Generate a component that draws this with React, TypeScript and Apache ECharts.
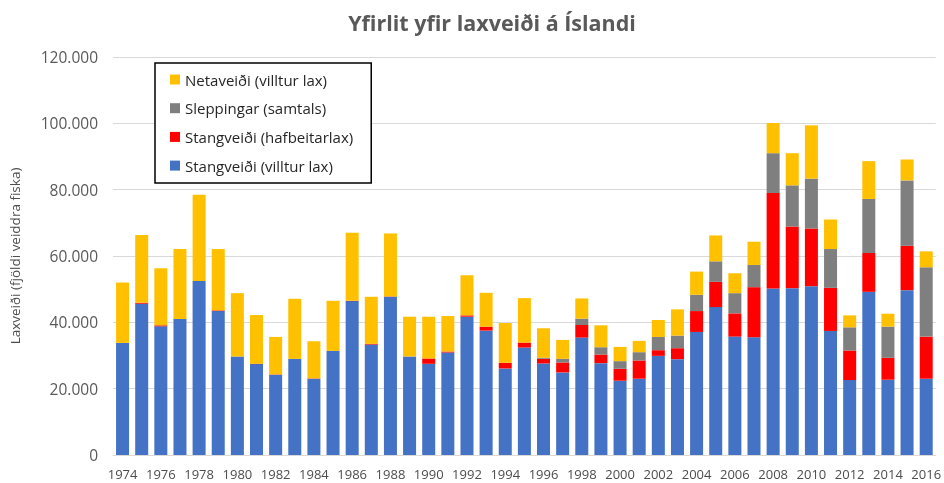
import React, { useEffect, useRef } from "react";
import * as echarts from "echarts";

const years = [
  "1974","1975","1976","1977","1978","1979","1980","1981","1982","1983",
  "1984","1985","1986","1987","1988","1989","1990","1991","1992","1993",
  "1994","1995","1996","1997","1998","1999","2000","2001","2002","2003",
  "2004","2005","2006","2007","2008","2009","2010","2011","2012","2013",
  "2014","2015","2016",
];

const villtur = [
  33800,45600,38800,41000,52500,43400,29700,27400,24200,29000,
  23000,31400,46400,33300,47700,29700,27500,30900,41700,37500,
  26100,32400,27600,24900,35400,27700,22400,23000,29900,28900,
  37100,44600,35700,35500,50200,50300,50900,37400,22600,49200,
  22700,49700,23000,
];

const hafbeit = [
  0,300,300,0,0,200,0,100,100,0,
  100,0,100,200,100,0,1600,300,400,1200,
  1700,1500,1400,3000,3800,2600,3600,5500,1700,3300,
  6300,7600,7000,15100,28800,18600,17400,13000,8900,11700,
  6600,13400,12700,
];

const sleppingar = [
  0,0,0,0,0,0,0,0,0,0,
  0,0,0,0,0,0,0,0,0,0,
  0,0,300,1100,1900,2200,2300,2500,4000,3800,
  4900,6200,6100,6700,12000,12400,15000,11700,7000,16300,
  9400,19700,20900,
];

const netaveidi = [
  18200,20400,17200,21100,26000,18500,19100,14700,11300,18100,
  11200,15100,20500,14200,19000,12000,12600,10700,12100,10200,
  12000,13400,8900,5700,6100,6600,4300,3400,5100,7900,
  7000,7800,6000,7000,9100,9700,16100,8900,3600,11400,
  3900,6300,4800,
];

const legendNames = [
  "Netaveiði (villtur lax)",
  "Sleppingar (samtals)",
  "Stangveiði (hafbeitarlax)",
  "Stangveiði (villtur lax)",
];

const FONT = "'Open Sans', sans-serif";

function fmt(v: number): string {
  return String(Math.round(v)).replace(/\B(?=(\d{3})+(?!\d))/g, ".");
}

export default function App() {
  const ref = useRef<HTMLDivElement>(null);
  useEffect(() => {
    if (!ref.current) return;
    const chart = echarts.init(ref.current, undefined, { renderer: "svg" });
    const mk = (name: string, data: number[], color: string) => ({
      name,
      type: "bar",
      stack: "total",
      data,
      barCategoryGap: "32%",
      itemStyle: { color },
    });
    chart.setOption({
      animation: false,
      textStyle: { fontFamily: FONT },
      title: {
        text: "Yfirlit yfir laxveiði á Íslandi",
        left: 487,
        textAlign: "center",
        top: 6,
        textStyle: { fontFamily: FONT, fontSize: 21.5, fontWeight: 700, color: "#595959" },
      },
      legend: {
        orient: "vertical",
        left: 155,
        top: 63,
        data: legendNames,
        borderColor: "#000",
        borderWidth: 1.5,
        backgroundColor: "#fff",
        padding: [9, 18, 10, 15],
        itemWidth: 10,
        itemHeight: 10,
        itemGap: 13.7,
        icon: "rect",
        textStyle: { fontFamily: FONT, fontSize: 15, color: "#262626", lineHeight: 14 },
      },
      grid: { left: 110, right: 5, top: 57, bottom: 28, containLabel: false },
      xAxis: {
        type: "category",
        data: years,
        axisLine: { lineStyle: { color: "#D9D9D9" } },
        axisTick: { show: false },
        axisLabel: { interval: 1, color: "#4D4D4D", fontSize: 13, margin: 12, fontFamily: FONT },
      },
      yAxis: {
        type: "value",
        min: 0,
        max: 120000,
        interval: 20000,
        name: "Laxveiði (fjöldi veiddra fiska)",
        nameLocation: "middle",
        nameGap: 91,
        nameTextStyle: { color: "#4D4D4D", fontSize: 13.5, fontFamily: FONT },
        axisLine: { show: false },
        axisTick: { show: false },
        splitLine: { lineStyle: { color: "#D9D9D9" } },
        axisLabel: {
          color: "#595959",
          fontSize: 15.5,
          margin: 15,
          fontFamily: FONT,
          formatter: (v: number) => fmt(v),
        },
      },
      series: [
        mk("Stangveiði (villtur lax)", villtur, "#4472C4"),
        mk("Stangveiði (hafbeitarlax)", hafbeit, "#FF0000"),
        mk("Sleppingar (samtals)", sleppingar, "#7F7F7F"),
        mk("Netaveiði (villtur lax)", netaveidi, "#FFC000"),
      ],
    });
    return () => chart.dispose();
  }, []);
  return (
    <div
      ref={ref}
      style={{ position: "fixed", left: 0, top: 0, width: 944, height: 483 }}
    />
  );
}
